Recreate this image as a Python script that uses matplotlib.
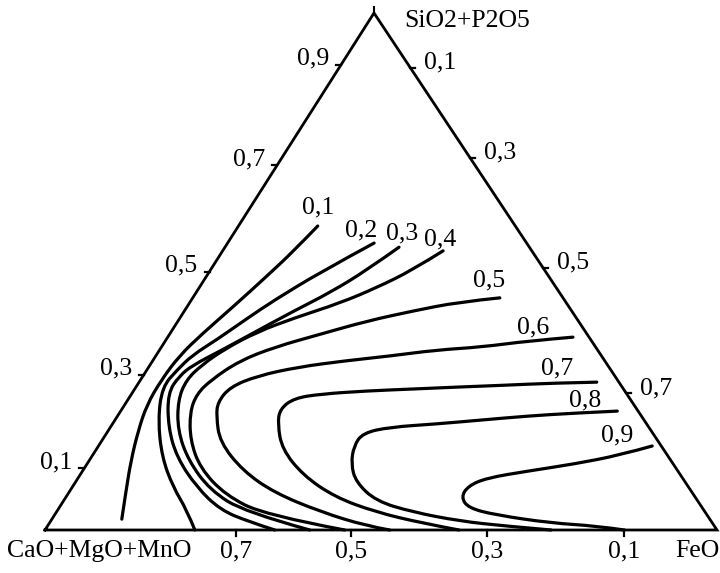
import matplotlib
matplotlib.use("Agg")
import matplotlib.pyplot as plt
from matplotlib.path import Path
from matplotlib.patches import PathPatch
import numpy as np

# ---------------- data (ternary fractions: FeO, SiO2+P2O5) ----------------
levels = ["0,1", "0,2", "0,3", "0,4", "0,5", "0,6", "0,7", "0,8", "0,9"]

curve_01 = [(0.118, 0.588), (0.106, 0.540), (0.089, 0.489), (0.069, 0.433), (0.048, 0.379),
            (0.035, 0.337), (0.031, 0.290), (0.033, 0.242), (0.045, 0.191), (0.062, 0.135),
            (0.083, 0.077), (0.104, 0.021)]
curve_02 = [(0.218, 0.555), (0.166, 0.499), (0.124, 0.445), (0.101, 0.410), (0.075, 0.3675),
            (0.054, 0.3385), (0.045, 0.3095), (0.039, 0.2766), (0.064, 0.2128), (0.105, 0.141),
            (0.150, 0.083), (0.192, 0.0387), (0.223, 0.0)]
curve_03 = [(0.259, 0.547), (0.233, 0.503), (0.200, 0.460), (0.163, 0.4236), (0.127, 0.385),
            (0.091, 0.346), (0.064, 0.319), (0.054, 0.298), (0.053, 0.265), (0.086, 0.199),
            (0.127, 0.141), (0.185, 0.083), (0.242, 0.0387), (0.297, 0.0155), (0.342, 0.0)]
curve_04 = [(0.328, 0.540), (0.301, 0.503), (0.263, 0.468), (0.224, 0.439), (0.170, 0.410),
            (0.128, 0.383), (0.096, 0.350), (0.077, 0.319), (0.068, 0.290), (0.075, 0.251),
            (0.103, 0.193), (0.147, 0.135), (0.208, 0.077), (0.280, 0.0348), (0.394, 0.0)]
curve_05 = [(0.457, 0.449), (0.400, 0.441), (0.340, 0.4236), (0.281, 0.404), (0.225, 0.379),
            (0.169, 0.354), (0.129, 0.327), (0.105, 0.290), (0.097, 0.263), (0.104, 0.228),
            (0.131, 0.174), (0.172, 0.120), (0.235, 0.0677), (0.313, 0.029), (0.446, 0.0)]
curve_06 = [(0.603, 0.373), (0.540, 0.3656), (0.477, 0.354), (0.411, 0.348), (0.349, 0.3366),
            (0.285, 0.327), (0.222, 0.315), (0.170, 0.298), (0.140, 0.2766), (0.136, 0.2476),
            (0.147, 0.2205), (0.177, 0.170), (0.239, 0.114), (0.307, 0.0716), (0.394, 0.0348),
            (0.475, 0.0077), (0.513, 0.0)]
curve_07 = [(0.681, 0.286), (0.614, 0.284), (0.547, 0.280), (0.481, 0.2766), (0.414, 0.2727),
            (0.347, 0.269), (0.282, 0.263), (0.246, 0.255), (0.235, 0.234), (0.246, 0.205),
            (0.276, 0.1567), (0.332, 0.106), (0.400, 0.0638), (0.475, 0.0348), (0.554, 0.0135),
            (0.616, 0.0)]
curve_08 = [(0.739, 0.230), (0.676, 0.226), (0.611, 0.2205), (0.546, 0.2128), (0.481, 0.205),
            (0.416, 0.199), (0.381, 0.1876), (0.380, 0.1625), (0.393, 0.1277), (0.417, 0.093),
            (0.465, 0.056), (0.530, 0.0348), (0.608, 0.0174), (0.681, 0.0077), (0.753, 0.0)]
curve_09 = [(0.824, 0.1625), (0.785, 0.145), (0.725, 0.1277), (0.663, 0.114), (0.608, 0.1006),
            (0.588, 0.085), (0.588, 0.0638), (0.609, 0.0426), (0.657, 0.029), (0.746, 0.0135),
            (0.818, 0.0077), (0.862, 0.0)]
curves = [curve_01, curve_02, curve_03, curve_04, curve_05, curve_06, curve_07, curve_08, curve_09]

left_ticks = ["0,1", "0,3", "0,5", "0,7", "0,9"]          # SiO2+P2O5
left_tick_vals = [0.12, 0.30, 0.50, 0.706, 0.90]
right_ticks = ["0,1", "0,3", "0,5", "0,7"]               # FeO
right_tick_vals = [0.106, 0.28, 0.493, 0.735]
bottom_ticks = ["0,7", "0,5", "0,3", "0,1"]              # CaO+MgO+MnO
bottom_tick_vals = [0.716, 0.545, 0.342, 0.138]

# ---------------- layout ----------------
W, H = 720, 573
fig = plt.figure(figsize=(W / 100, H / 100), dpi=100)
ax = fig.add_axes([0, 0, 1, 1])
ax.set_xlim(0, W)
ax.set_ylim(H, 0)
ax.axis("off")

P_cao = np.array([45.0, 530.0])
P_feo = np.array([717.0, 530.0])
P_sio = np.array([374.0, 13.0])


def tern(feo, sio2):
    feo = np.asarray(feo, float)
    sio2 = np.asarray(sio2, float)
    cao = 1 - feo - sio2
    x = cao * P_cao[0] + feo * P_feo[0] + sio2 * P_sio[0]
    y = cao * P_cao[1] + feo * P_feo[1] + sio2 * P_sio[1]
    return x, y


def smooth_path(x, y):
    pts = np.column_stack([x, y])
    verts = [pts[0]]
    codes = [Path.MOVETO]
    for i in range(1, len(pts) - 1):
        mid = (pts[i] + pts[i + 1]) / 2
        if i == len(pts) - 2:
            mid = pts[i + 1]
        verts += [pts[i], mid]
        codes += [Path.CURVE3, Path.CURVE3]
    if len(pts) == 2:
        verts.append(pts[1])
        codes.append(Path.LINETO)
    return Path(verts, codes)


FONT = dict(family="Liberation Serif", size=18.5, color="black")

# triangle
tx, ty = tern([0, 1, 0, 0], [0, 0, 1, 0])
ax.plot(tx, ty, color="black", lw=2.0, solid_joinstyle="miter", zorder=3)
ax.plot([P_sio[0], P_sio[0]], [P_sio[1], P_sio[1] - 6], color="black", lw=1.5)

# ticks
for lab, v in zip(left_ticks, left_tick_vals):
    x, y = tern(0.0, v)
    ax.plot([x - 5, x], [y, y], color="black", lw=1.6)
    ax.text(x - 28, y - 6, lab, ha="center", va="center", **FONT)
for lab, v in zip(right_ticks, right_tick_vals):
    x, y = tern(v, 1 - v)
    ax.plot([x, x + 5], [y, y], color="black", lw=1.6)
    ax.text(x + 30, y - 5, lab, ha="center", va="center", **FONT)
for lab, v in zip(bottom_ticks, bottom_tick_vals):
    x, y = tern(1 - v, 0.0)
    ax.plot([x, x], [y, y + 6], color="black", lw=1.6)
    ax.text(x, y + 21, lab, ha="center", va="center", **FONT)

ax.text(404, 21, "SiO2+P2O5", ha="left", va="center", **FONT)
ax.text(99, 551, "CaO+MgO+MnO", ha="center", va="center", **FONT)
ax.text(720, 551, "FeO", ha="right", va="center", **FONT)

# iso-lines
label_offsets = [(0, -19), (-13, -13), (3, -14), (-3, -11), (-11, -17),
                 (-40, -10), (-40, -14), (-32, -11), (-35, -11)]
for lab, c, off in zip(levels, curves, label_offsets):
    f, s = zip(*c)
    x, y = tern(f, s)
    ax.add_patch(PathPatch(smooth_path(x, y), facecolor="none", edgecolor="black",
                           lw=2.3, capstyle="round", joinstyle="round"))
    ax.text(x[0] + off[0], y[0] + off[1], lab, ha="center", va="center", **FONT)

fig.savefig("out.png", dpi=100)
